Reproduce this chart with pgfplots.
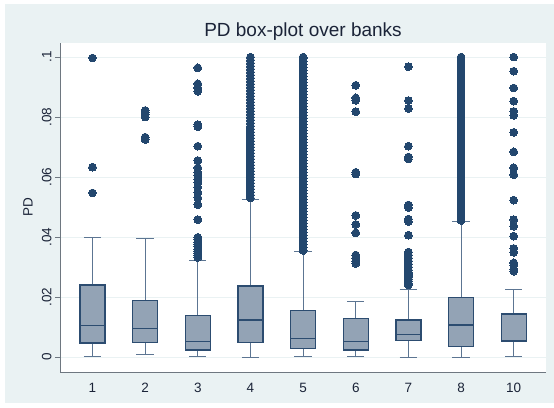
\documentclass[border=0pt]{standalone}
\usepackage{fontspec}
\setmainfont{Liberation Sans}
\usepackage{pgfplots}
\pgfplotsset{compat=1.18}
\definecolor{bgc}{HTML}{EAF2F3}
\definecolor{gridc}{HTML}{EAF2F3}
\definecolor{dotc}{HTML}{23476E}
\definecolor{boxfill}{HTML}{93A3B5}
\definecolor{boxline}{HTML}{2C4C70}
\definecolor{whisk}{HTML}{5C7592}
\definecolor{axisc}{HTML}{6E7780}
\definecolor{textc}{HTML}{1B2438}
\pgfplotsset{
  wh/.style={draw=whisk, line width=1pt, mark=none},
  bx/.style={draw=boxline, fill=boxfill, line width=1.3pt, mark=none},
  md/.style={draw=boxline, line width=1.3pt, mark=none},
  dt/.style={only marks, mark=*, mark size=3.9pt, mark options={draw=dotc, fill=dotc, line width=0pt}},
}
\begin{document}
\begin{tikzpicture}
\fill[white] (0,0) rectangle (554pt,407pt);
\fill[bgc] (5pt,4pt) rectangle (554pt,403pt);
\begin{axis}[
  at={(60pt,35pt)}, anchor=south west,
  scale only axis, width=486pt, height=329pt,
  xmin=-0.617, xmax=8.613, ymin=-0.005, ymax=0.1047,
  axis background/.style={fill=white},
  axis x line*=bottom, axis y line*=left,
  axis line style={draw=axisc, line width=0.8pt},
  xtick={0,...,8}, xticklabels={1,2,3,4,5,6,7,8,10},
  xtick style={draw=none},
  ytick={0,0.02,0.04,0.06,0.08,0.1},
  yticklabels={0,.02,.04,.06,.08,.1},
  ytick style={draw=axisc, line width=0.8pt},
  tick align=outside, major tick length=5pt,
  ymajorgrids, major grid style={draw=gridc, line width=0.8pt},
  ticklabel style={font=\fontsize{13.5}{15}\selectfont, text=textc},
  yticklabel style={rotate=90, anchor=south},
  xticklabel style={anchor=north},
  xticklabel shift=3pt,
  ylabel={PD},
  ylabel style={at={(axis description cs:-0.066,0.5)}, anchor=center, font=\fontsize{13.5}{15}\selectfont, text=textc},
  title={PD box-plot over banks},
  title style={at={(axis description cs:0.5,1)}, anchor=base, yshift=0.5pt, font=\fontsize{19}{22}\selectfont, text=textc},
]
% ---------- bank 1 (pos 0): lw .0002 q1 .0047 med .0104 q3 .0240 uw .0398
\addplot[wh] coordinates {(0,0.0240) (0,0.0398)};
\addplot[wh] coordinates {(-0.165,0.0398) (0.165,0.0398)};
\addplot[wh] coordinates {(0,0.0002) (0,0.0047)};
\addplot[wh] coordinates {(-0.165,0.0002) (0.165,0.0002)};
\addplot[bx] coordinates {(-0.2375,0.0047) (0.2375,0.0047) (0.2375,0.0240) (-0.2375,0.0240)} --cycle;
\addplot[md] coordinates {(-0.2375,0.0104) (0.2375,0.0104)};
\addplot[dt] coordinates {(0,0.0997) (0,0.0633) (0,0.0547)};
% ---------- bank 2 (pos 1): lw .0007 q1 .0049 med .0095 q3 .0189 uw .0395
\addplot[wh] coordinates {(1,0.0189) (1,0.0395)};
\addplot[wh] coordinates {(0.835,0.0395) (1.165,0.0395)};
\addplot[wh] coordinates {(1,0.0007) (1,0.0049)};
\addplot[wh] coordinates {(0.835,0.0007) (1.165,0.0007)};
\addplot[bx] coordinates {(0.7625,0.0049) (1.2375,0.0049) (1.2375,0.0189) (0.7625,0.0189)} --cycle;
\addplot[md] coordinates {(0.7625,0.0095) (1.2375,0.0095)};
\addplot[dt] coordinates {(1,0.0822) (1,0.0815) (1,0.0808) (1,0.0800) (1,0.0733) (1,0.0725)};
% ---------- bank 3 (pos 2): lw .0002 q1 .0023 med .0052 q3 .0139 uw .0323
\addplot[wh] coordinates {(2,0.0139) (2,0.0323)};
\addplot[wh] coordinates {(1.835,0.0323) (2.165,0.0323)};
\addplot[wh] coordinates {(2,0.0002) (2,0.0023)};
\addplot[wh] coordinates {(1.835,0.0002) (2.165,0.0002)};
\addplot[bx] coordinates {(1.7625,0.0023) (2.2375,0.0023) (2.2375,0.0139) (1.7625,0.0139)} --cycle;
\addplot[md] coordinates {(1.7625,0.0052) (2.2375,0.0052)};
\addplot[dt] coordinates {(2,0.0964) (2,0.0911) (2,0.0897) (2,0.0886) (2,0.0775) (2,0.0768) (2,0.0703) (2,0.0655) (2,0.0631) (2,0.0615) (2,0.0605) (2,0.0592) (2,0.0581) (2,0.0566) (2,0.0549) (2,0.0531) (2,0.0508) (2,0.0458) (2,0.0399) (2,0.0392) (2,0.0383) (2,0.0375) (2,0.0369) (2,0.0360) (2,0.0353) (2,0.0346) (2,0.0339) (2,0.0332)};
% ---------- bank 4 (pos 3): lw 0 q1 .0049 med .0123 q3 .0237 uw .0525
\addplot[wh] coordinates {(3,0.0237) (3,0.0525)};
\addplot[wh] coordinates {(2.835,0.0525) (3.165,0.0525)};
\addplot[wh] coordinates {(3,0.0) (3,0.0049)};
\addplot[wh] coordinates {(2.835,0.0) (3.165,0.0)};
\addplot[bx] coordinates {(2.7625,0.0049) (3.2375,0.0049) (3.2375,0.0237) (2.7625,0.0237)} --cycle;
\addplot[md] coordinates {(2.7625,0.0123) (3.2375,0.0123)};
\addplot[dt] coordinates {(3,0.053) (3,0.054) (3,0.055) (3,0.056) (3,0.057) (3,0.058) (3,0.059) (3,0.060) (3,0.061) (3,0.062) (3,0.063) (3,0.064) (3,0.065) (3,0.066) (3,0.067) (3,0.068) (3,0.069) (3,0.070) (3,0.071) (3,0.072) (3,0.073) (3,0.074) (3,0.075) (3,0.076) (3,0.077) (3,0.078) (3,0.079) (3,0.080) (3,0.081) (3,0.082) (3,0.083) (3,0.084) (3,0.085) (3,0.086) (3,0.087) (3,0.088) (3,0.089) (3,0.090) (3,0.091) (3,0.092) (3,0.093) (3,0.094) (3,0.095) (3,0.096) (3,0.097) (3,0.098) (3,0.099) (3,0.100)};
% ---------- bank 5 (pos 4): lw .0002 q1 .0029 med .0061 q3 .0156 uw .0351
\addplot[wh] coordinates {(4,0.0156) (4,0.0351)};
\addplot[wh] coordinates {(3.835,0.0351) (4.165,0.0351)};
\addplot[wh] coordinates {(4,0.0002) (4,0.0029)};
\addplot[wh] coordinates {(3.835,0.0002) (4.165,0.0002)};
\addplot[bx] coordinates {(3.7625,0.0029) (4.2375,0.0029) (4.2375,0.0156) (3.7625,0.0156)} --cycle;
\addplot[md] coordinates {(3.7625,0.0061) (4.2375,0.0061)};
\addplot[dt] coordinates {(4,0.0355) (4,0.0365) (4,0.0375) (4,0.0385) (4,0.0395) (4,0.0405) (4,0.0415) (4,0.0425) (4,0.0435) (4,0.0445) (4,0.0455) (4,0.0465) (4,0.0475) (4,0.0485) (4,0.0495) (4,0.0505) (4,0.0515) (4,0.0525) (4,0.0535) (4,0.0545) (4,0.0555) (4,0.0565) (4,0.0575) (4,0.0585) (4,0.0595) (4,0.0605) (4,0.0615) (4,0.0625) (4,0.0635) (4,0.0645) (4,0.0655) (4,0.0665) (4,0.0675) (4,0.0685) (4,0.0695) (4,0.0705) (4,0.0715) (4,0.0725) (4,0.0735) (4,0.0745) (4,0.0755) (4,0.0765) (4,0.0775) (4,0.0785) (4,0.0795) (4,0.0805) (4,0.0815) (4,0.0825) (4,0.0835) (4,0.0845) (4,0.0855) (4,0.0865) (4,0.0875) (4,0.0885) (4,0.0895) (4,0.0905) (4,0.0915) (4,0.0925) (4,0.0935) (4,0.0945) (4,0.0955) (4,0.0965) (4,0.0975) (4,0.0985) (4,0.0995) (4,0.1000)};
% ---------- bank 6 (pos 5): lw .0003 q1 .0023 med .0051 q3 .0128 uw .0185
\addplot[wh] coordinates {(5,0.0128) (5,0.0185)};
\addplot[wh] coordinates {(4.835,0.0185) (5.165,0.0185)};
\addplot[wh] coordinates {(5,0.0003) (5,0.0023)};
\addplot[wh] coordinates {(4.835,0.0003) (5.165,0.0003)};
\addplot[bx] coordinates {(4.7625,0.0023) (5.2375,0.0023) (5.2375,0.0128) (4.7625,0.0128)} --cycle;
\addplot[md] coordinates {(4.7625,0.0051) (5.2375,0.0051)};
\addplot[dt] coordinates {(5,0.0906) (5,0.0864) (5,0.0856) (5,0.0818) (5,0.0616) (5,0.0610) (5,0.0472) (5,0.0442) (5,0.0414) (5,0.0340) (5,0.0330) (5,0.0320) (5,0.0312)};
% ---------- bank 7 (pos 6): lw 0 q1 .0054 med .0074 q3 .0123 uw .0224
\addplot[wh] coordinates {(6,0.0123) (6,0.0224)};
\addplot[wh] coordinates {(5.835,0.0224) (6.165,0.0224)};
\addplot[wh] coordinates {(6,0.0) (6,0.0054)};
\addplot[wh] coordinates {(5.835,0.0) (6.165,0.0)};
\addplot[bx] coordinates {(5.7625,0.0054) (6.2375,0.0054) (6.2375,0.0123) (5.7625,0.0123)} --cycle;
\addplot[md] coordinates {(5.7625,0.0074) (6.2375,0.0074)};
\addplot[dt] coordinates {(6,0.0968) (6,0.0855) (6,0.0828) (6,0.0703) (6,0.0667) (6,0.0660) (6,0.0507) (6,0.0498) (6,0.0460) (6,0.0452) (6,0.0406) (6,0.0350) (6,0.0340) (6,0.0330) (6,0.0320) (6,0.0310) (6,0.0300) (6,0.0290) (6,0.0282) (6,0.0275) (6,0.0268) (6,0.0260) (6,0.0253) (6,0.0246) (6,0.0240)};
% ---------- bank 8 (pos 7): lw 0 q1 .0036 med .0107 q3 .0198 uw .0451
\addplot[wh] coordinates {(7,0.0198) (7,0.0451)};
\addplot[wh] coordinates {(6.835,0.0451) (7.165,0.0451)};
\addplot[wh] coordinates {(7,0.0) (7,0.0036)};
\addplot[wh] coordinates {(6.835,0.0) (7.165,0.0)};
\addplot[bx] coordinates {(6.7625,0.0036) (7.2375,0.0036) (7.2375,0.0198) (6.7625,0.0198)} --cycle;
\addplot[md] coordinates {(6.7625,0.0107) (7.2375,0.0107)};
\addplot[dt] coordinates {(7,0.0455) (7,0.0465) (7,0.0475) (7,0.0485) (7,0.0495) (7,0.0505) (7,0.0515) (7,0.0525) (7,0.0535) (7,0.0545) (7,0.0555) (7,0.0565) (7,0.0575) (7,0.0585) (7,0.0595) (7,0.0605) (7,0.0615) (7,0.0625) (7,0.0635) (7,0.0645) (7,0.0655) (7,0.0665) (7,0.0675) (7,0.0685) (7,0.0695) (7,0.0705) (7,0.0715) (7,0.0725) (7,0.0735) (7,0.0745) (7,0.0755) (7,0.0765) (7,0.0775) (7,0.0785) (7,0.0795) (7,0.0805) (7,0.0815) (7,0.0825) (7,0.0835) (7,0.0845) (7,0.0855) (7,0.0865) (7,0.0875) (7,0.0885) (7,0.0895) (7,0.0905) (7,0.0915) (7,0.0925) (7,0.0935) (7,0.0945) (7,0.0955) (7,0.0965) (7,0.0975) (7,0.0985) (7,0.0995) (7,0.1000)};
% ---------- bank 10 (pos 8): lw .0002 q1 .0053 med .0056 q3 .0143 uw .0226
\addplot[wh] coordinates {(8,0.0143) (8,0.0226)};
\addplot[wh] coordinates {(7.835,0.0226) (8.165,0.0226)};
\addplot[wh] coordinates {(8,0.0002) (8,0.0053)};
\addplot[wh] coordinates {(7.835,0.0002) (8.165,0.0002)};
\addplot[bx] coordinates {(7.7625,0.0053) (8.2375,0.0053) (8.2375,0.0143) (7.7625,0.0143)} --cycle;
\addplot[md] coordinates {(7.7625,0.0056) (8.2375,0.0056)};
\addplot[dt] coordinates {(8,0.1000) (8,0.0953) (8,0.0897) (8,0.0853) (8,0.0819) (8,0.0806) (8,0.0749) (8,0.0684) (8,0.0631) (8,0.0608) (8,0.0523) (8,0.0458) (8,0.0436) (8,0.0403) (8,0.0362) (8,0.0349) (8,0.0314) (8,0.0306) (8,0.0292) (8,0.0286)};
\end{axis}
\end{tikzpicture}
\end{document}
